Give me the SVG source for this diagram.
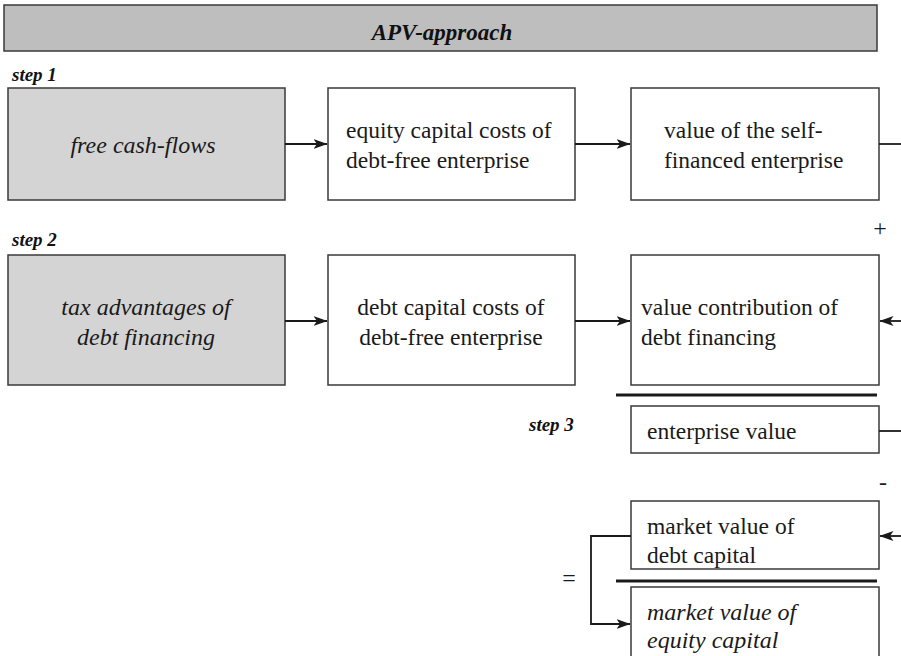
<svg xmlns="http://www.w3.org/2000/svg" width="901" height="656" viewBox="0 0 901 656">
  <style>
    .box { fill: #ffffff; stroke: #3a3a3a; stroke-width: 1.5; }
    .shaded { fill: #d4d4d4; stroke: #3a3a3a; stroke-width: 1.5; }
    .title { fill: #bebebe; stroke: #3a3a3a; stroke-width: 1.5; }
    .t { font-family: "Liberation Serif", "Times New Roman", serif; font-size: 23.5px; fill: #1a1a1a; }
    .ti { font-family: "Liberation Serif", "Times New Roman", serif; font-size: 24px; font-style: italic; fill: #1a1a1a; }
    .step { font-family: "Liberation Serif", "Times New Roman", serif; font-size: 19px; font-style: italic; font-weight: bold; fill: #111111; }
    .head { font-family: "Liberation Serif", "Times New Roman", serif; font-size: 23px; font-style: italic; font-weight: bold; fill: #111111; }
    .sign { font-family: "Liberation Serif", "Times New Roman", serif; font-size: 24px; fill: #1a1a1a; }
    .conn { fill: none; stroke: #1a1a1a; stroke-width: 1.8; }
    .rule { stroke: #1a1a1a; stroke-width: 3; }
  </style>
  <defs>
    <marker id="arrow" viewBox="0 0 14 10" refX="13.5" refY="5" markerWidth="14" markerHeight="10" markerUnits="userSpaceOnUse" orient="auto">
      <path d="M0,0 L14,5 L0,10 L3.5,5 z" fill="#1a1a1a"/>
    </marker>
  </defs>

  <!-- header bar -->
  <g id="header">
    <rect class="title" x="4" y="5" width="873" height="46"/>
    <text class="head" x="442" y="40" text-anchor="middle">APV-approach</text>
  </g>

  <!-- step labels -->
  <text class="step" x="12" y="81">step 1</text>
  <text class="step" x="12" y="246">step 2</text>
  <text class="step" x="529" y="431">step 3</text>

  <!-- step 1 row -->
  <g id="free-cash-flows">
    <rect class="shaded" x="8" y="88" width="277" height="112"/>
    <text class="ti" x="143" y="153" text-anchor="middle">free cash-flows</text>
  </g>
  <g id="equity-costs">
    <rect class="box" x="328" y="88" width="247" height="112"/>
    <text class="t" x="346" y="138">equity capital costs of</text>
    <text class="t" x="346" y="168">debt-free enterprise</text>
  </g>
  <g id="self-financed-value">
    <rect class="box" x="631" y="88" width="248" height="112"/>
    <text class="t" x="664" y="138">value of the self-</text>
    <text class="t" x="664" y="168">financed enterprise</text>
  </g>

  <!-- step 2 row -->
  <g id="tax-advantages">
    <rect class="shaded" x="8" y="255" width="277" height="130"/>
    <text class="ti" x="146" y="315" text-anchor="middle">tax advantages of</text>
    <text class="ti" x="146" y="345" text-anchor="middle">debt financing</text>
  </g>
  <g id="debt-costs">
    <rect class="box" x="328" y="255" width="247" height="130"/>
    <text class="t" x="451" y="315" text-anchor="middle">debt capital costs of</text>
    <text class="t" x="451" y="345" text-anchor="middle">debt-free enterprise</text>
  </g>
  <g id="debt-contribution">
    <rect class="box" x="631" y="255" width="248" height="130"/>
    <text class="t" x="641" y="315">value contribution of</text>
    <text class="t" x="641" y="345">debt financing</text>
  </g>

  <!-- step 3 -->
  <g id="enterprise-value">
    <rect class="box" x="631" y="406" width="248" height="47"/>
    <text class="t" x="647" y="439">enterprise value</text>
  </g>
  <g id="debt-market-value">
    <rect class="box" x="631" y="501" width="248" height="68"/>
    <text class="t" x="647" y="534">market value of</text>
    <text class="t" x="647" y="563">debt capital</text>
  </g>
  <g id="equity-market-value">
    <rect class="box" x="631" y="587" width="248" height="80"/>
    <text class="ti" x="647" y="620">market value of</text>
    <text class="ti" x="647" y="648">equity capital</text>
  </g>

  <!-- sum rules and operators -->
  <line class="rule" x1="616" y1="395" x2="877" y2="395"/>
  <line class="rule" x1="616" y1="581" x2="877" y2="581"/>
  <text class="sign" x="880" y="236" text-anchor="middle">+</text>
  <text class="sign" x="883" y="490" text-anchor="middle">-</text>
  <text class="sign" x="569" y="586" text-anchor="middle">=</text>

  <!-- connectors -->
  <g id="connectors">
    <line class="conn" x1="285" y1="144" x2="327" y2="144" marker-end="url(#arrow)"/>
    <line class="conn" x1="575" y1="144" x2="630" y2="144" marker-end="url(#arrow)"/>
    <line class="conn" x1="879" y1="144" x2="901" y2="144"/>
    <line class="conn" x1="285" y1="321" x2="327" y2="321" marker-end="url(#arrow)"/>
    <line class="conn" x1="575" y1="321" x2="630" y2="321" marker-end="url(#arrow)"/>
    <line class="conn" x1="901" y1="321" x2="880" y2="321" marker-end="url(#arrow)"/>
    <line class="conn" x1="879" y1="431" x2="901" y2="431"/>
    <line class="conn" x1="901" y1="536" x2="880" y2="536" marker-end="url(#arrow)"/>
    <polyline class="conn" points="631,536 591,536 591,624 630,624" marker-end="url(#arrow)"/>
  </g>
</svg>
